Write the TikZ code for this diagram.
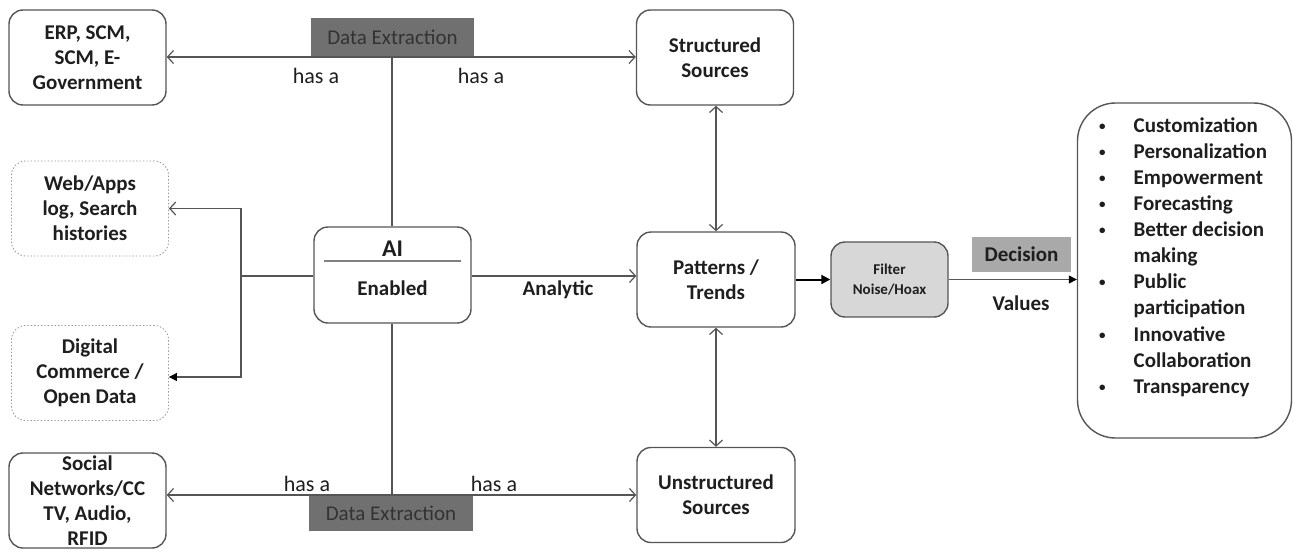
\documentclass[tikz,border=0pt]{standalone}
\usepackage{fontspec}
\setmainfont{Carlito}
\usetikzlibrary{arrows.meta}
\definecolor{edge}{HTML}{555555}
\definecolor{txt}{HTML}{1E1E1E}
\definecolor{dxfill}{HTML}{707070}
\definecolor{dxtext}{HTML}{333333}
\definecolor{decfill}{HTML}{A9A9A9}
\definecolor{filfill}{HTML}{D7D7D7}
\definecolor{dotedge}{HTML}{9A9A9A}
\newcommand{\smbul}{\raisebox{2pt}{\fontsize{13}{13}\selectfont\textbullet}}
\begin{document}
\begin{tikzpicture}[x=1pt,y=-1pt,
  box/.style={draw=edge, line width=1.4pt, rounded corners=14pt, minimum width=157pt, minimum height=95pt, inner sep=0pt, align=center, text=txt, font=\fontsize{21}{25}\selectfont\bfseries},
  dotbox/.style={box, draw=dotedge, dotted, line width=0.9pt},
  conn/.style={draw=edge, line width=1.2pt},
  oarr/.style={conn, -{Straight Barb[length=6pt,width=13pt]}},
  darr/.style={conn, {Straight Barb[length=6pt,width=13pt]}-{Straight Barb[length=6pt,width=13pt]}},
  farr/.style={conn, -{Triangle[length=8pt,width=8pt,fill=black,color=black]}},
  dxbox/.style={fill=dxfill, draw=none, inner sep=0pt, text=dxtext, font=\fontsize{21}{25}\selectfont},
  lbl/.style={inner sep=0pt, text=txt, font=\fontsize{22}{26}\selectfont},
  blbl/.style={inner sep=0pt, text=txt, font=\fontsize{21}{25}\selectfont\bfseries}
]
\useasboundingbox (0,0) rectangle (1293,549);

% left boxes
\node[box] (erp) at (87.5,57.5) {ERP, SCM,\\SCM, E-\\Government};
\node[dotbox] (web) at (90,208.5) {Web/Apps\\log, Search\\histories};
\node[dotbox] (dig) at (90,373) {Digital\\Commerce /\\Open Data};
\node[box] (soc) at (87.5,500.5) {Social\\Networks/CC\\TV, Audio,\\RFID};

% AI box
\node[box, minimum width=157pt, minimum height=96pt] (ai) at (392.5,275) {};
\node[inner sep=0pt, text=txt, font=\fontsize{24}{28}\selectfont\bfseries] (ait) at (392.5,249) {AI};
\node[blbl] (aie) at (392.5,288) {Enabled};
\draw[draw=gray, line width=2pt] (324,261) -- (461,261);

% middle boxes
\node[box] (str) at (715,57.5) {Structured\\Sources};
\node[box, minimum width=158pt] (pat) at (716,279.5) {Patterns /\\Trends};
\node[box, minimum width=158pt] (uns) at (716,495) {Unstructured\\Sources};

% filter and decision
\node[box, fill=filfill, minimum width=117pt, minimum height=75pt, font=\fontsize{15}{19.5}\selectfont\bfseries] (fil) at (889.5,279.5) {Filter\\Noise/Hoax};
\node[fill=decfill, inner sep=0pt, minimum width=99pt, minimum height=35pt, text=txt, font=\fontsize{21}{25}\selectfont\bfseries] (dec) at (1021.5,254.5) {Decision};
\node[blbl] (vals) at (1021,303) {Values};

% values box
\node[draw=edge, line width=1.4pt, rounded corners=38pt, minimum width=214pt, minimum height=335pt, inner sep=0pt] (val) at (1184.5,270.5) {};
\node[anchor=west, inner sep=0pt, text=txt, font=\fontsize{21}{26.1}\selectfont\bfseries] (lst) at (1099,257.5) {%
\begin{tabular}{@{}l@{\hspace{28pt}}l@{}}
\smbul & Customization\\
\smbul & Personalization\\
\smbul & Empowerment\\
\smbul & Forecasting\\
\smbul & Better decision\\
 & making\\
\smbul & Public\\
 & participation\\
\smbul & Innovative\\
 & Collaboration\\
\smbul & Transparency
\end{tabular}};

% data extraction labels
\node[dxbox, minimum width=163pt, minimum height=39pt] (de1) at (392.5,37.5) {Data Extraction};
\node[dxbox, minimum width=164pt, minimum height=35pt] (de2) at (391,513.5) {Data Extraction};

% junctions
\coordinate (tj) at (392,57);
\coordinate (bj) at (392,495);
\coordinate (lj) at (241,276);

% top connectors
\draw[oarr] (tj) -- (erp.east |- tj);
\draw[oarr] (tj) -- (str.west |- tj);
\draw[conn] (tj) -- (ai.north -| tj);
\node[lbl] (ha1) at (316,76) {has a};
\node[lbl] (ha2) at (481,76) {has a};

% bottom connectors
\draw[oarr] (bj) -- (soc.east |- bj);
\draw[oarr] (bj) -- (uns.west |- bj);
\draw[conn] (ai.south -| bj) -- (bj);
\node[lbl] (ha3) at (307,484) {has a};
\node[lbl] (ha4) at (494,484) {has a};

% left connectors
\draw[conn] (ai.west |- lj) -- (lj);
\draw[oarr] (lj) |- (web.east);
\draw[farr] (lj) |- ([yshift=-4pt]dig.east);

% analytic
\draw[oarr] (ai.east |- lj) -- (pat.west |- lj);
\node[blbl] (ana) at (558,290) {Analytic};

% vertical double arrows
\draw[darr] (str.south -| pat.north) -- (pat.north);
\draw[darr] (pat.south) -- (uns.north);

% to filter and values
\draw[black, line width=2pt, -{Triangle[length=9pt,width=9pt]}] (pat.east) -- (fil.west);
\draw[farr] (fil.east) -- (val.west |- fil.east);
\end{tikzpicture}
\end{document}
